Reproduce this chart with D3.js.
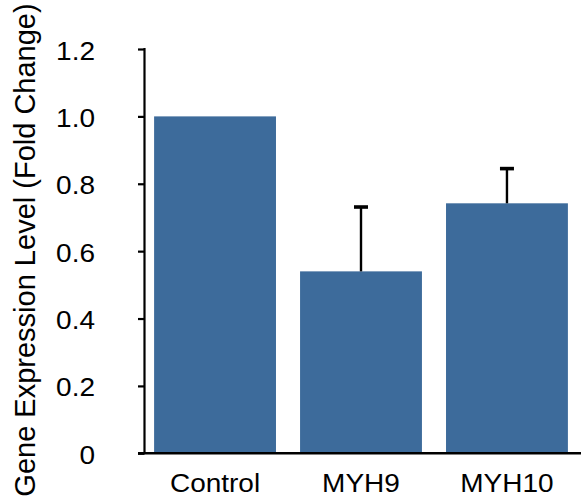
<!DOCTYPE html>
<html>
<head>
<meta charset="utf-8">
<script src="https://cdn.jsdelivr.net/npm/d3@7"></script>
<style>
  html, body { margin: 0; padding: 0; background: #fff; }
  svg { display: block; }
  text { font-family: "Liberation Sans", Arial, Helvetica, sans-serif; fill: #000; }
</style>
</head>
<body>
<svg id="chart" width="581" height="501"></svg>
<script>
// Relative expression per condition
const categories = ["Control", "MYH9", "MYH10"];
const means = [1.0, 0.54, 0.742];
const errors = [0, 0.191, 0.103];
const yTicks = [0, 0.2, 0.4, 0.6, 0.8, 1.0, 1.2];
const yTickLabels = ["0", "0.2", "0.4", "0.6", "0.8", "1.0", "1.2"];
const yTitle = "Gene Expression Level (Fold Change)";

const svg = d3.select("#chart");
const W = 581, H = 501;
const barColor = "#3d6b9b";
const textScaleX = 1.12;

const y = d3.scaleLinear().domain([0, 1.2]).range([453.3, 49]);
const x = d3.scaleBand()
  .domain(categories)
  .range([139.5, 582.5])
  .paddingInner(0.165)
  .paddingOuter(0.1);

const axisX = 144.5;

// Bars
svg.append("g").selectAll("rect")
  .data(categories)
  .join("rect")
  .attr("x", d => x(d))
  .attr("width", x.bandwidth())
  .attr("y", (d, i) => y(means[i]))
  .attr("height", (d, i) => y(0) - y(means[i]))
  .attr("fill", barColor);

// Upper error bars
const errG = svg.append("g");
categories.forEach((c, i) => {
  if (!errors[i]) return;
  const cx = x(c) + x.bandwidth() / 2;
  const top = y(means[i] + errors[i]);
  errG.append("line")
    .attr("x1", cx).attr("x2", cx)
    .attr("y1", y(means[i])).attr("y2", top)
    .attr("stroke", "#000").attr("stroke-width", 2.4);
  errG.append("line")
    .attr("x1", cx - 7).attr("x2", cx + 7)
    .attr("y1", top).attr("y2", top)
    .attr("stroke", "#000").attr("stroke-width", 3.6);
});

// Y axis
const yAxis = d3.axisLeft(y)
  .tickValues(yTicks)
  .tickSize(6.5)
  .tickFormat((d, i) => "");
const gy = svg.append("g")
  .attr("transform", `translate(${axisX},0)`)
  .call(yAxis);
gy.select(".domain").remove();
gy.selectAll(".tick line").attr("stroke", "#000").attr("stroke-width", 2.2);
gy.append("line")
  .attr("x1", 0).attr("x2", 0)
  .attr("y1", y(1.2) - 1).attr("y2", y(0))
  .attr("stroke", "#000").attr("stroke-width", 2.2);

// Y tick labels
svg.append("g").selectAll("text")
  .data(yTicks)
  .join("text")
  .attr("transform", d => `translate(95,${y(d) + 10.5}) scale(${textScaleX},1)`)
  .attr("text-anchor", "end")
  .attr("font-size", 25)
  .text((d, i) => yTickLabels[i]);

// X axis line
svg.append("line")
  .attr("x1", 138).attr("x2", W)
  .attr("y1", y(0)).attr("y2", y(0))
  .attr("stroke", "#000").attr("stroke-width", 2.4);

// X labels
svg.append("g").selectAll("text")
  .data(categories)
  .join("text")
  .attr("transform", d => `translate(${x(d) + x.bandwidth() / 2},492) scale(${textScaleX},1)`)
  .attr("text-anchor", "middle")
  .attr("font-size", 25)
  .text(d => d);

// Y title
svg.append("text")
  .attr("transform", "translate(34.5,250) rotate(-90)")
  .attr("text-anchor", "middle")
  .attr("font-size", 29)
  .text(yTitle);
</script>
</body>
</html>
